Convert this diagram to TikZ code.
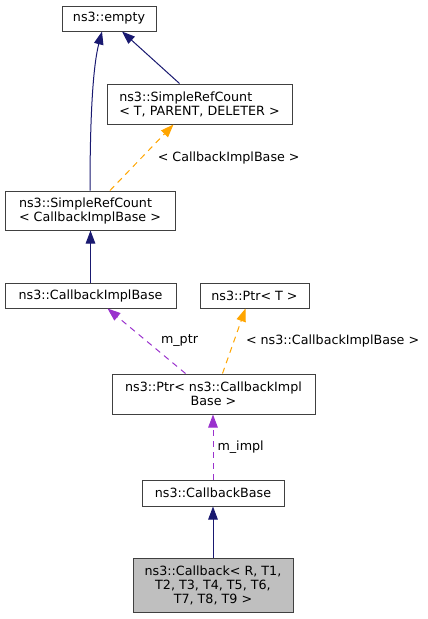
\documentclass[tikz,border=0pt]{standalone}
\usepackage{fontspec}
\setmainfont{DejaVu Sans}
\usepackage{tikz}
\usetikzlibrary{arrows.meta}
\definecolor{navy}{HTML}{191970}
\definecolor{tmpl}{HTML}{FFA500}
\definecolor{orchid}{HTML}{9A32CD}
\definecolor{cur}{HTML}{BFBFBF}

\begin{document}
\begin{tikzpicture}[x=1pt,y=-1pt,font=\fontsize{12.7}{14}\selectfont,
  cls/.style={draw=black!75,fill=white,line width=1pt,inner sep=0pt},
  inh/.style={draw=navy,line width=1pt,-{Triangle[length=13pt,width=9.5pt]}},
  tpl/.style={draw=tmpl,line width=1pt,dash pattern=on 6pt off 5pt,-{Triangle[length=13pt,width=9.5pt]}},
  use/.style={draw=orchid,line width=1pt,dash pattern=on 6pt off 5pt,-{Triangle[length=13pt,width=9.5pt]}},
  lbl/.style={inner sep=0pt,right}]
  \useasboundingbox (0,0) rectangle (428,619);

  \node[cls,minimum width=94,minimum height=25] (empty) at (109,18.5) {ns3::empty};
  \node[cls,minimum width=185,minimum height=40,align=left] (srct) at (199.5,104) {ns3::SimpleRefCount\\< T, PARENT, DELETER >};
  \node[cls,minimum width=170,minimum height=39,align=left] (srcb) at (90,210.5) {ns3::SimpleRefCount\\< CallbackImplBase >};
  \node[cls,minimum width=171,minimum height=25] (cib) at (90.5,295.5) {ns3::CallbackImplBase};
  \node[cls,minimum width=109,minimum height=25] (ptrt) at (254.5,295.5) {ns3::Ptr< T >};
  \node[cls,minimum width=203,minimum height=40,align=center] (ptrc) at (213.5,394) {ns3::Ptr< ns3::CallbackImpl\\Base >};
  \node[cls,minimum width=142,minimum height=26] (cbb) at (213,493) {ns3::CallbackBase};
  \node[cls,fill=cur,minimum width=160,minimum height=54,align=center] (cb) at (213,585) {ns3::Callback< R, T1,\\T2, T3, T4, T5, T6,\\T7, T8, T9 >};

  \draw[inh] (srcb.north) .. controls (90,130) and (92,70) .. ([xshift=-7pt]empty.south);
  \draw[inh] ([xshift=-20pt]srct.north) -- ([xshift=13pt]empty.south);
  \draw[tpl] ([xshift=20pt]srcb.north) -- node[lbl,xshift=15.5pt] {< CallbackImplBase >} ([xshift=-26pt]srct.south);
  \draw[inh] (cib.north) -- (cib.north |- srcb.south);
  \draw[use] ([xshift=-28pt]ptrc.north) -- node[lbl,xshift=14pt] {m\_ptr} ([xshift=17pt]cib.south);
  \draw[tpl] ([xshift=9pt]ptrc.north) -- node[lbl,xshift=11.5pt] {< ns3::CallbackImplBase >} ([xshift=-9pt]ptrt.south);
  \draw[use] (cbb.north) -- node[lbl,xshift=4pt] {m\_impl} (cbb.north |- ptrc.south);
  \draw[inh] (cb) -- (cbb);
\end{tikzpicture}
\end{document}
